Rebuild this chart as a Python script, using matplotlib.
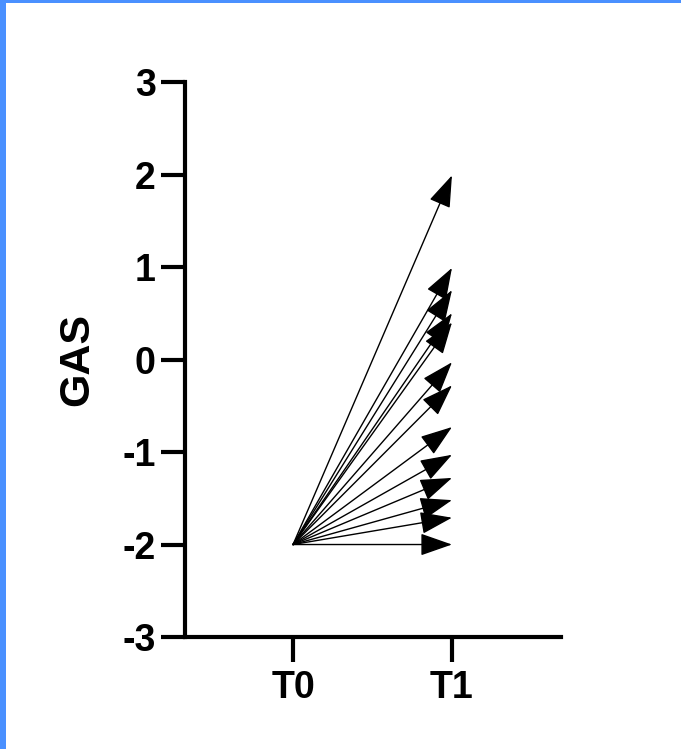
import matplotlib
matplotlib.use("Agg")
import matplotlib.pyplot as plt
from matplotlib.patches import Rectangle

# ── data ─────────────────────────────────────────
timepoints = ["T0", "T1"]
gas_t0 = [-2.0] * 13
gas_t1 = [1.99, 0.99, 0.75, 0.50, 0.40, -0.03, -0.28, -0.73, -1.03, -1.28, -1.52, -1.71, -2.0]
y_ticks = [-3, -2, -1, 0, 1, 2, 3]

plt.rcParams['font.family'] = ['Liberation Sans', 'DejaVu Sans']
plt.rcParams['font.weight'] = 'bold'

fig = plt.figure(figsize=(6.81, 7.49), dpi=100)
ax = fig.add_axes([0.2717, 0.1495, 0.552, 0.7410])

x0, x1 = 0, 1
for a, b in zip(gas_t0, gas_t1):
    ax.annotate(
        "", xy=(x1, b), xytext=(x0, a), xycoords="data",
        arrowprops=dict(arrowstyle="-|>,head_length=0.4,head_width=0.14",
                        mutation_scale=50, color="black", lw=1.0,
                        shrinkA=0, shrinkB=0),
    )

ax.set_xlim(-0.68, 1.686)
ax.set_ylim(-3, 3)
ax.set_xticks([x0, x1])
ax.set_xticklabels(timepoints)
ax.set_yticks(y_ticks)
ax.set_yticklabels([str(t) for t in y_ticks])
ax.set_ylabel("GAS", fontsize=31, fontweight="bold", labelpad=18)

for s in ["top", "right"]:
    ax.spines[s].set_visible(False)
for s in ["left", "bottom"]:
    ax.spines[s].set_linewidth(3)
ax.tick_params(axis="y", length=17, width=3, labelsize=27, pad=4)
ax.tick_params(axis="x", length=18, width=3, labelsize=27, pad=6)

# blue frame at the edges of the picture
fig.add_artist(Rectangle((0, 0), 6 / 681, 1, transform=fig.transFigure,
                         color="#4a90ff", lw=0))
fig.add_artist(Rectangle((0, 1 - 3 / 749), 1, 3 / 749, transform=fig.transFigure,
                         color="#4a90ff", lw=0))

fig.savefig("out.png", dpi=100)
